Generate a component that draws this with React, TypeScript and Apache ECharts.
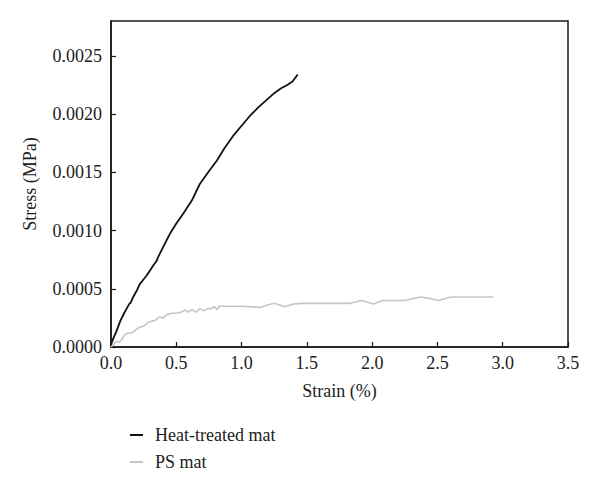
import React, { useEffect, useRef } from "react";
import * as echarts from "echarts";

const xTicks = [0, 0.5, 1.0, 1.5, 2.0, 2.5, 3.0, 3.5];
const yTicks = [0, 0.0005, 0.001, 0.0015, 0.002, 0.0025];

const seriesNames = ["Heat-treated mat", "PS mat"];

const heatStrain = [0, 0.02, 0.04, 0.07, 0.1, 0.12, 0.14, 0.15, 0.17, 0.2, 0.22, 0.235, 0.27, 0.3, 0.33, 0.35, 0.36, 0.4, 0.45, 0.5, 0.55, 0.62, 0.68, 0.75, 0.81, 0.87, 0.94, 1.0, 1.06, 1.13, 1.19, 1.25, 1.3, 1.35, 1.39, 1.43];
const heatStress = [0.00002, 0.00008, 0.00013, 0.00022, 0.00029, 0.00033, 0.00037, 0.00038, 0.00043, 0.00049, 0.00054, 0.00056, 0.00061, 0.00066, 0.00071, 0.00074, 0.00077, 0.00086, 0.00097, 0.00106, 0.00114, 0.00126, 0.0014, 0.00151, 0.0016, 0.00171, 0.00182, 0.0019, 0.00198, 0.00206, 0.00212, 0.00218, 0.00222, 0.00225, 0.00228, 0.00234];

const psStrain = [0, 0.02, 0.04, 0.06, 0.08, 0.1, 0.13, 0.16, 0.19, 0.22, 0.25, 0.28, 0.31, 0.34, 0.37, 0.4, 0.43, 0.47, 0.5, 0.54, 0.57, 0.59, 0.62, 0.65, 0.68, 0.71, 0.74, 0.77, 0.79, 0.81, 0.83, 0.9, 1.0, 1.14, 1.2, 1.25, 1.33, 1.4, 1.47, 1.83, 1.92, 2.01, 2.08, 2.25, 2.37, 2.43, 2.51, 2.6, 2.93];
const psStress = [0.0, 0.00002, 0.00005, 0.00004, 0.00006, 0.0001, 0.00012, 0.00012, 0.00015, 0.00017, 0.00018, 0.00021, 0.00022, 0.00023, 0.00026, 0.00025, 0.00028, 0.00029, 0.00029, 0.0003, 0.00032, 0.0003, 0.00032, 0.0003, 0.00033, 0.00031, 0.00033, 0.00033, 0.00035, 0.00032, 0.00035, 0.00035, 0.00035, 0.00034, 0.00036, 0.000375, 0.000345, 0.00037, 0.000375, 0.000375, 0.0004, 0.00037, 0.0004, 0.0004, 0.00043, 0.00042, 0.0004, 0.00043, 0.00043];

const FONT = "'Liberation Serif', 'DejaVu Serif', serif";
const TXT = "#222";
const FS = 18;

export default function App() {
  const ref = useRef<HTMLDivElement>(null);
  useEffect(() => {
    if (!ref.current) return;
    const chart = echarts.init(ref.current, undefined, { renderer: "svg" });
    const axisLine = { show: true, lineStyle: { color: "#1a1a1a", width: 1.5 } };
    chart.setOption({
      animation: false,
      backgroundColor: "#fff",
      textStyle: { fontFamily: FONT, color: TXT },
      grid: {
        left: 111,
        top: 21,
        right: 32,
        bottom: 148,
        show: true,
        borderColor: "#1a1a1a",
        borderWidth: 1.5,
      },
      legend: {
        orient: "vertical",
        left: 130,
        top: 426,
        padding: 0,
        itemWidth: 13,
        itemHeight: 2,
        itemGap: 9,
        icon: "rect",
        data: seriesNames,
        textStyle: { fontFamily: FONT, fontSize: FS, color: TXT, padding: [0, 0, 0, 7] },
      },
      xAxis: {
        type: "value",
        min: 0,
        max: 3.5,
        interval: 0.5,
        name: "Strain (%)",
        nameLocation: "middle",
        nameGap: 35,
        nameTextStyle: { fontFamily: FONT, fontSize: FS, color: TXT },
        axisLine,
        axisTick: { show: true, inside: true, length: 5, lineStyle: { color: "#1a1a1a", width: 1.2 } },
        splitLine: { show: false },
        axisLabel: {
          fontFamily: FONT,
          fontSize: FS,
          color: TXT,
          margin: 7,
          formatter: (v: number) => (xTicks.some((t) => Math.abs(t - v) < 1e-9) ? v.toFixed(1) : ""),
        },
      },
      yAxis: {
        type: "value",
        min: 0,
        max: 0.0028,
        interval: 0.0005,
        name: "Stress (MPa)",
        nameLocation: "middle",
        nameGap: 72,
        nameTextStyle: { fontFamily: FONT, fontSize: FS, color: TXT },
        axisLine,
        axisTick: { show: true, inside: true, length: 5, lineStyle: { color: "#1a1a1a", width: 1.2 } },
        splitLine: { show: false },
        axisLabel: {
          fontFamily: FONT,
          fontSize: FS,
          color: TXT,
          margin: 9,
          showMaxLabel: false,
          formatter: (v: number) => (yTicks.some((t) => Math.abs(t - v) < 1e-9) ? v.toFixed(4) : ""),
        },
      },
      series: [
        {
          name: seriesNames[0],
          type: "line",
          showSymbol: false,
          symbol: "none",
          data: heatStrain.map((x, i) => [x, heatStress[i]]),
          lineStyle: { color: "#111", width: 1.8 },
          itemStyle: { color: "#111" },
        },
        {
          name: seriesNames[1],
          type: "line",
          showSymbol: false,
          symbol: "none",
          data: psStrain.map((x, i) => [x, psStress[i]]),
          lineStyle: { color: "#c2c7c7", width: 1.6 },
          itemStyle: { color: "#c2c7c7" },
        },
      ],
    });
    return () => chart.dispose();
  }, []);
  return <div ref={ref} style={{ position: "fixed", left: 0, top: 0, width: 600, height: 495 }} />;
}
